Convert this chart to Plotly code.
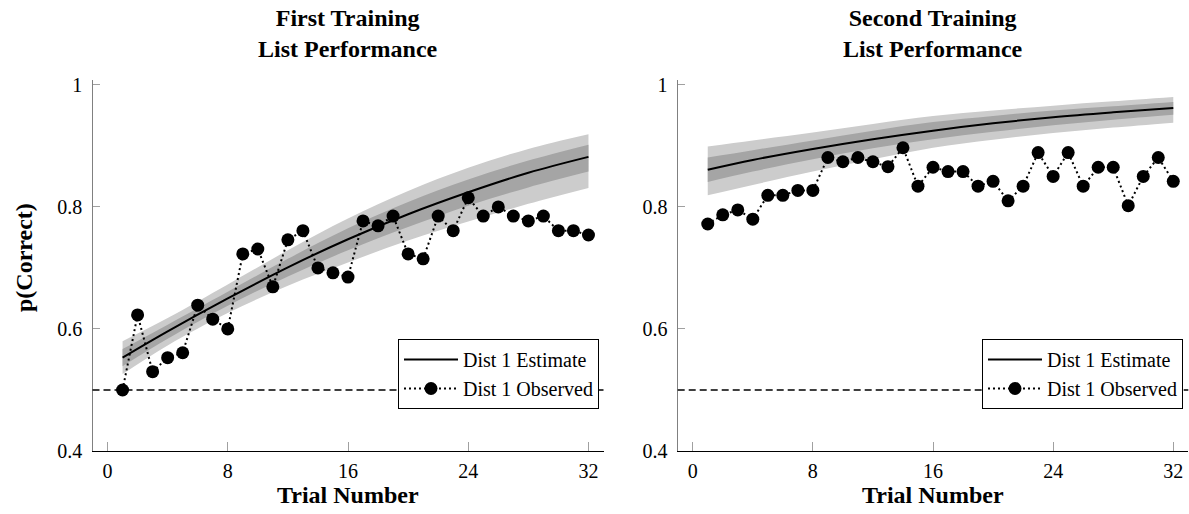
import plotly.graph_objects as go

# ---------------- data ----------------
TRIALS = list(range(1, 33))

OBS_FIRST = [0.500, 0.623, 0.530, 0.553, 0.561, 0.639, 0.616, 0.600,
             0.723, 0.731, 0.669, 0.746, 0.761, 0.700, 0.692, 0.685,
             0.777, 0.769, 0.785, 0.723, 0.715, 0.785, 0.761, 0.815,
             0.785, 0.800, 0.785, 0.777, 0.785, 0.761, 0.761, 0.754]

OBS_SECOND = [0.772, 0.787, 0.795, 0.780, 0.819, 0.819, 0.827, 0.827,
              0.881, 0.874, 0.881, 0.874, 0.866, 0.897, 0.834, 0.865,
              0.858, 0.858, 0.834, 0.842, 0.810, 0.834, 0.889, 0.850,
              0.889, 0.834, 0.865, 0.865, 0.802, 0.850, 0.881, 0.842]

CURVE_TRIALS = [1, 4, 8, 12, 16, 20, 24, 28, 32]

EST_FIRST = [0.553, 0.596, 0.650, 0.701, 0.747, 0.788, 0.824, 0.856, 0.882]
OUTER_HI_FIRST = [0.580, 0.618, 0.673, 0.729, 0.781, 0.826, 0.864, 0.895, 0.919]
OUTER_LO_FIRST = [0.526, 0.573, 0.626, 0.671, 0.709, 0.745, 0.776, 0.805, 0.831]
INNER_HI_FIRST = [0.567, 0.607, 0.661, 0.715, 0.765, 0.808, 0.845, 0.876, 0.902]
INNER_LO_FIRST = [0.539, 0.584, 0.638, 0.686, 0.729, 0.767, 0.802, 0.832, 0.858]

EST_SECOND = [0.861, 0.877, 0.895, 0.911, 0.925, 0.937, 0.947, 0.955, 0.962]
OUTER_HI_SECOND = [0.899, 0.909, 0.922, 0.936, 0.949, 0.958, 0.966, 0.973, 0.980]
OUTER_LO_SECOND = [0.819, 0.836, 0.858, 0.878, 0.897, 0.910, 0.921, 0.930, 0.938]
INNER_HI_SECOND = [0.881, 0.893, 0.909, 0.925, 0.939, 0.949, 0.958, 0.965, 0.972]
INNER_LO_SECOND = [0.841, 0.858, 0.878, 0.896, 0.911, 0.923, 0.934, 0.943, 0.951]

CHANCE = 0.5
X_TICKS = [0, 8, 16, 24, 32]
Y_TICKS = [0.4, 0.6, 0.8, 1.0]
Y_TICK_TEXT = ["0.4", "0.6", "0.8", "1"]
TITLES = ["First Training<br>List Performance", "Second Training<br>List Performance"]
X_TITLE = "Trial Number"
Y_TITLE = "p(Correct)"
NAME_EST = "Dist 1 Estimate"
NAME_OBS = "Dist 1 Observed"

# ---------------- style ----------------
FONT = "Liberation Serif"
W, H = 1189, 514
X_DOMAINS = [[92.5 / W, 603.5 / W], [677.7 / W, 1188.3 / W]]
Y_DOMAIN = [1 - 451 / H, 1 - 80 / H]
LIGHT = "#cccccc"
DARK = "#a5a5a5"

fig = go.Figure()

panels = [
    ("x", "y", "legend", OBS_FIRST, EST_FIRST, OUTER_LO_FIRST, OUTER_HI_FIRST, INNER_LO_FIRST, INNER_HI_FIRST),
    ("x2", "y2", "legend2", OBS_SECOND, EST_SECOND, OUTER_LO_SECOND, OUTER_HI_SECOND, INNER_LO_SECOND, INNER_HI_SECOND),
]

for xa, ya, lg, obs, est, olo, ohi, ilo, ihi in panels:
    common = dict(xaxis=xa, yaxis=ya, legend=lg, hoverinfo="skip")
    fig.add_trace(go.Scatter(x=CURVE_TRIALS, y=olo, mode="lines", line=dict(width=0, shape="spline"),
                             showlegend=False, **common))
    fig.add_trace(go.Scatter(x=CURVE_TRIALS, y=ohi, mode="lines", line=dict(width=0, shape="spline"),
                             fill="tonexty", fillcolor=LIGHT, showlegend=False, **common))
    fig.add_trace(go.Scatter(x=CURVE_TRIALS, y=ilo, mode="lines", line=dict(width=0, shape="spline"),
                             showlegend=False, **common))
    fig.add_trace(go.Scatter(x=CURVE_TRIALS, y=ihi, mode="lines", line=dict(width=0, shape="spline"),
                             fill="tonexty", fillcolor=DARK, showlegend=False, **common))
    fig.add_trace(go.Scatter(x=CURVE_TRIALS, y=est, mode="lines", name=NAME_EST,
                             line=dict(color="black", width=2, shape="spline"), **common))
    fig.add_trace(go.Scatter(x=TRIALS, y=obs, mode="lines+markers", name=NAME_OBS,
                             line=dict(color="black", width=2, dash="2px,3px"),
                             marker=dict(color="black", size=13), **common))
    fig.add_shape(type="line", xref=f"{xa} domain", yref=ya, x0=0, x1=1, y0=CHANCE, y1=CHANCE,
                  line=dict(color="black", width=1.5, dash="7px,4px"))

xaxis_style = dict(range=[-1, 33], tickvals=X_TICKS, ticks="inside", ticklen=9, tickcolor="#a0a0a0",
                   tickwidth=1, showline=True, linecolor="black", linewidth=1.3, showgrid=False,
                   zeroline=False, tickfont=dict(family=FONT, size=20, color="black"),
                   ticklabelstandoff=2, automargin=False)
yaxis_style = dict(range=[0.4, 1.008], tickvals=Y_TICKS, ticktext=Y_TICK_TEXT, ticks="inside", ticklen=7,
                   tickcolor="#a0a0a0", tickwidth=1, showline=True, linecolor="#808080", linewidth=1.3,
                   showgrid=False, zeroline=False, tickfont=dict(family=FONT, size=20, color="black"),
                   ticklabelstandoff=5, automargin=False, domain=Y_DOMAIN)

fig.update_layout(
    width=W, height=H, margin=dict(l=0, r=0, t=0, b=0),
    paper_bgcolor="white", plot_bgcolor="white",
    xaxis=dict(xaxis_style, domain=X_DOMAINS[0], anchor="y"),
    yaxis=dict(yaxis_style, anchor="x"),
    xaxis2=dict(xaxis_style, domain=X_DOMAINS[1], anchor="y2"),
    yaxis2=dict(yaxis_style, anchor="x2"),
    font=dict(family=FONT, color="black"),
)

legend_style = dict(xanchor="right", yanchor="bottom", y=1 - 409 / H, bgcolor="white",
                    bordercolor="black", borderwidth=1, font=dict(family=FONT, size=20, color="black"),
                    itemwidth=54, tracegroupgap=0, traceorder="normal")
fig.update_layout(legend=dict(legend_style, x=599 / W), legend2=dict(legend_style, x=1183 / W))

for i, dom in enumerate(X_DOMAINS):
    cx = (dom[0] + dom[1]) / 2
    fig.add_annotation(text=f"<b>{TITLES[i]}</b>", xref="paper", yref="paper", x=cx, y=1 - 33 / H,
                       xanchor="center", yanchor="middle", showarrow=False,
                       font=dict(family=FONT, size=24, color="black"))
    fig.add_annotation(text=f"<b>{X_TITLE}</b>", xref="paper", yref="paper", x=cx, y=1 - 495 / H,
                       xanchor="center", yanchor="middle", showarrow=False,
                       font=dict(family=FONT, size=24, color="black"))

fig.add_annotation(text=f"<b>{Y_TITLE}</b>", xref="paper", yref="paper", x=24 / W, y=1 - 258 / H,
                   xanchor="center", yanchor="middle", textangle=-90, showarrow=False,
                   font=dict(family=FONT, size=24, color="black"))

fig.write_html("out.html", config={"displayModeBar": False},
               post_script="document.body.style.margin='0px';document.body.style.overflow='hidden';")
